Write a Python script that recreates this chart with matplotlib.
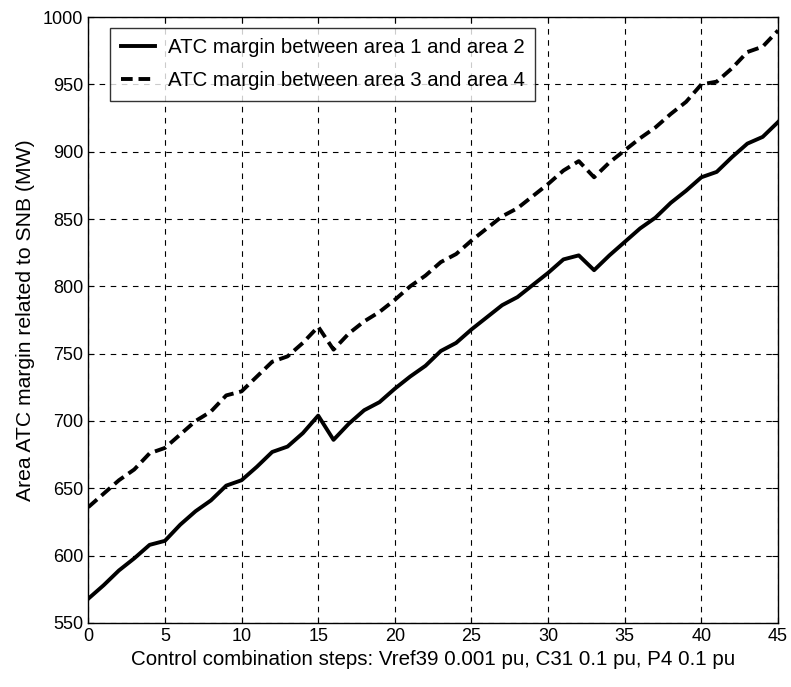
import numpy as np
import matplotlib
matplotlib.use("Agg")
from matplotlib import pyplot as plt

plt.rcParams['font.family'] = ['Liberation Sans', 'DejaVu Sans']

steps = np.arange(0, 46)
atc_12 = [568, 578, 589, 598, 608, 611, 623, 633, 641, 652,
          656, 666, 677, 681, 691, 704, 686, 698, 708, 714,
          724, 733, 741, 752, 758, 768, 777, 786, 792, 801,
          810, 820, 823, 812, 823, 833, 843, 851, 862, 871,
          881, 885, 896, 906, 911, 922]
atc_34 = [636, 646, 656, 664, 676, 680, 690, 700, 707, 719,
          722, 733, 744, 748, 758, 770, 753, 765, 774, 781,
          790, 800, 808, 818, 824, 834, 843, 852, 858, 867,
          876, 886, 893, 881, 892, 901, 910, 918, 928, 937,
          950, 952, 962, 974, 978, 990]

xticks = np.arange(0, 46, 5)
yticks = np.arange(550, 1001, 50)

fig = plt.figure(figsize=(7.91, 6.87), dpi=100)
ax = fig.add_axes([0.1116, 0.0932, 0.872, 0.882])

ax.plot(steps, atc_12, color='black', lw=2.8, ls='-',
        label='ATC margin between area 1 and area 2')
ax.plot(steps, atc_34, color='black', lw=2.8, ls=(0, (3, 1.5)),
        label='ATC margin between area 3 and area 4')

ax.set_xlim(0, 45)
ax.set_ylim(550, 1000)
ax.set_xticks(xticks)
ax.set_yticks(yticks)
ax.grid(True, color='black', ls=(0, (5, 5)), lw=0.8)
ax.tick_params(direction='in', top=True, right=True, labelsize=13, length=4)
for s in ax.spines.values():
    s.set_linewidth(1.0)

ax.set_xlabel('Control combination steps: Vref39 0.001 pu, C31 0.1 pu, P4 0.1 pu',
              fontsize=14.8, labelpad=4)
ax.set_ylabel('Area ATC margin related to SNB (MW)', fontsize=15.2, labelpad=6)

leg = ax.legend(loc='upper left', fontsize=14.7, frameon=True, fancybox=False,
                edgecolor='black', handlelength=1.7, handletextpad=0.6,
                labelspacing=0.7, borderpad=0.5, borderaxespad=0.0,
                bbox_to_anchor=(0.032, 0.982))
leg.get_frame().set_linewidth(1.0)

fig.savefig('out.png', dpi=100)
